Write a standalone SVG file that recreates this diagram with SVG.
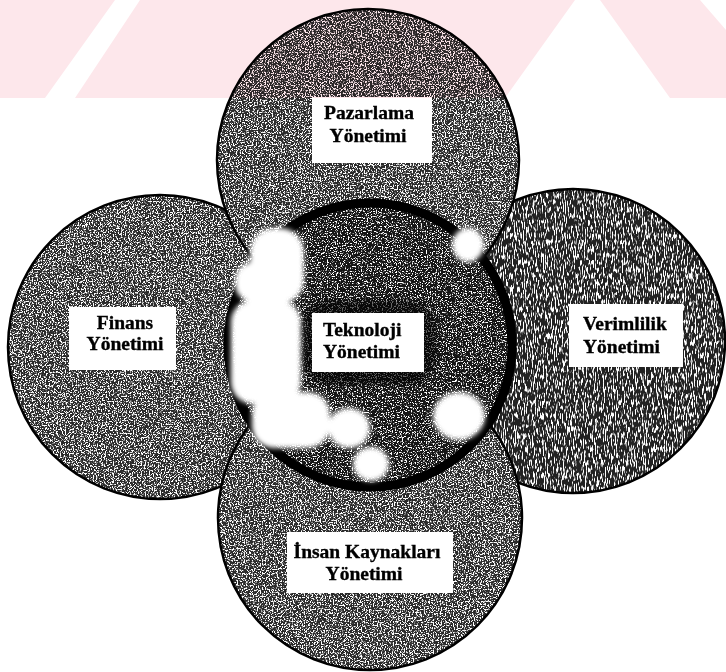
<svg xmlns="http://www.w3.org/2000/svg" width="726" height="672" viewBox="0 0 726 672">
<style>
.lbl{font-family:"Liberation Serif","Times New Roman",serif;font-weight:bold;font-size:19.5px;fill:#000;stroke:#000;stroke-width:0.35}
.box{fill:#fff}
.ring{fill:none;stroke:#000;stroke-width:2.5}
</style>
<defs>
<filter id="speck" x="0" y="0" width="100%" height="100%">
<feTurbulence type="fractalNoise" baseFrequency="0.75" numOctaves="2" seed="4" result="t"/>
<feColorMatrix in="t" type="matrix" values="0 0 0 0 1 0 0 0 0 1 0 0 0 0 1 8 0 0 0 -3.95" result="w"/>
<feComposite in="w" in2="SourceAlpha" operator="in"/>
</filter>
<filter id="speckV" x="0" y="0" width="100%" height="100%">
<feTurbulence type="fractalNoise" baseFrequency="0.9 0.15" numOctaves="2" seed="7" result="t"/>
<feColorMatrix in="t" type="matrix" values="0 0 0 0 1 0 0 0 0 1 0 0 0 0 1 8 0 0 0 -4.05" result="w"/>
<feComposite in="w" in2="SourceAlpha" operator="in"/>
</filter>
<filter id="speckD" x="0" y="0" width="100%" height="100%">
<feTurbulence type="fractalNoise" baseFrequency="0.8" numOctaves="2" seed="11" result="t"/>
<feColorMatrix in="t" type="matrix" values="0 0 0 0 1 0 0 0 0 1 0 0 0 0 1 8 0 0 0 -4.3" result="w"/>
<feComposite in="w" in2="SourceAlpha" operator="in"/>
</filter>
<filter id="soft" x="-30%" y="-30%" width="160%" height="160%">
<feGaussianBlur stdDeviation="2.5"/>
</filter>
</defs>
<rect width="726" height="672" fill="#fff"/>

<g id="node-finans">
<circle cx="160" cy="347" r="152" fill="#2a2a2a"/>
<circle cx="160" cy="347" r="152" fill="#fff" filter="url(#speck)"/>
<circle class="ring" cx="160" cy="347" r="152"/>
<rect class="box" x="69" y="307" width="107" height="63"/>
<text class="lbl" x="125" y="329" text-anchor="middle">Finans</text>
<text class="lbl" x="125" y="350" text-anchor="middle">Yönetimi</text>
</g>

<g id="node-verimlilik">
<circle cx="573" cy="341" r="152" fill="#222"/>
<circle cx="573" cy="341" r="152" fill="#fff" filter="url(#speckV)"/>
<circle class="ring" cx="573" cy="341" r="152"/>
<rect class="box" x="569" y="304" width="114" height="63"/>
<text class="lbl" x="583" y="330">Verimlilik</text>
<text class="lbl" x="583" y="353">Yönetimi</text>
</g>

<g id="node-pazarlama">
<circle cx="368" cy="160" r="151" fill="#2a2a2a"/>
<circle cx="368" cy="160" r="151" fill="#fff" filter="url(#speck)"/>
<circle class="ring" cx="368" cy="160" r="151"/>
<rect class="box" x="312" y="97" width="120" height="66"/>
<text class="lbl" x="369" y="119" text-anchor="middle">Pazarlama</text>
<text class="lbl" x="368" y="142" text-anchor="middle">Yönetimi</text>
</g>

<g id="node-insan">
<circle cx="370" cy="518" r="152" fill="#2a2a2a"/>
<circle cx="370" cy="518" r="152" fill="#fff" filter="url(#speck)"/>
<circle class="ring" cx="370" cy="518" r="152"/>
<rect class="box" x="287" y="532" width="166" height="61"/>
<text class="lbl" x="367" y="558" text-anchor="middle">İnsan Kaynakları</text>
<text class="lbl" x="364" y="580" text-anchor="middle">Yönetimi</text>
</g>

<g id="node-teknoloji">
<circle cx="370" cy="345" r="146" fill="#151515"/>
<circle cx="370" cy="345" r="138" fill="#fff" filter="url(#speckD)"/>
<circle cx="370" cy="345" r="142" fill="none" stroke="#000" stroke-width="9"/>
<rect x="300" y="300" width="136" height="85" rx="30" fill="#000" opacity="0.6" filter="url(#soft)"/>
<g fill="#fff" filter="url(#soft)">
<rect x="250" y="228" width="54" height="76" rx="24"/>
<rect x="235" y="262" width="40" height="40" rx="18"/>
<rect x="231" y="300" width="70" height="104" rx="22"/>
<rect x="252" y="392" width="78" height="56" rx="22"/>
<ellipse cx="349" cy="428" rx="21" ry="20"/>
<ellipse cx="371" cy="464" rx="18" ry="17"/>
<ellipse cx="468" cy="245" rx="16" ry="17"/>
<ellipse cx="459" cy="416" rx="26" ry="24"/>
</g>
<rect class="box" x="312" y="313" width="112" height="59"/>
<text class="lbl" x="323" y="336">Teknoloji</text>
<text class="lbl" x="323" y="358">Yönetimi</text>
</g>

<g id="connectors"></g>

<g id="watermark" style="mix-blend-mode:multiply" fill="#fde7eb">
<polygon points="0,0 115,0 45,98 0,98"/>
<polygon points="140,0 575,0 505,98 75,98"/>
<polygon points="600,0 700,0 726,30 726,98 670,98"/>
</g>
</svg>
